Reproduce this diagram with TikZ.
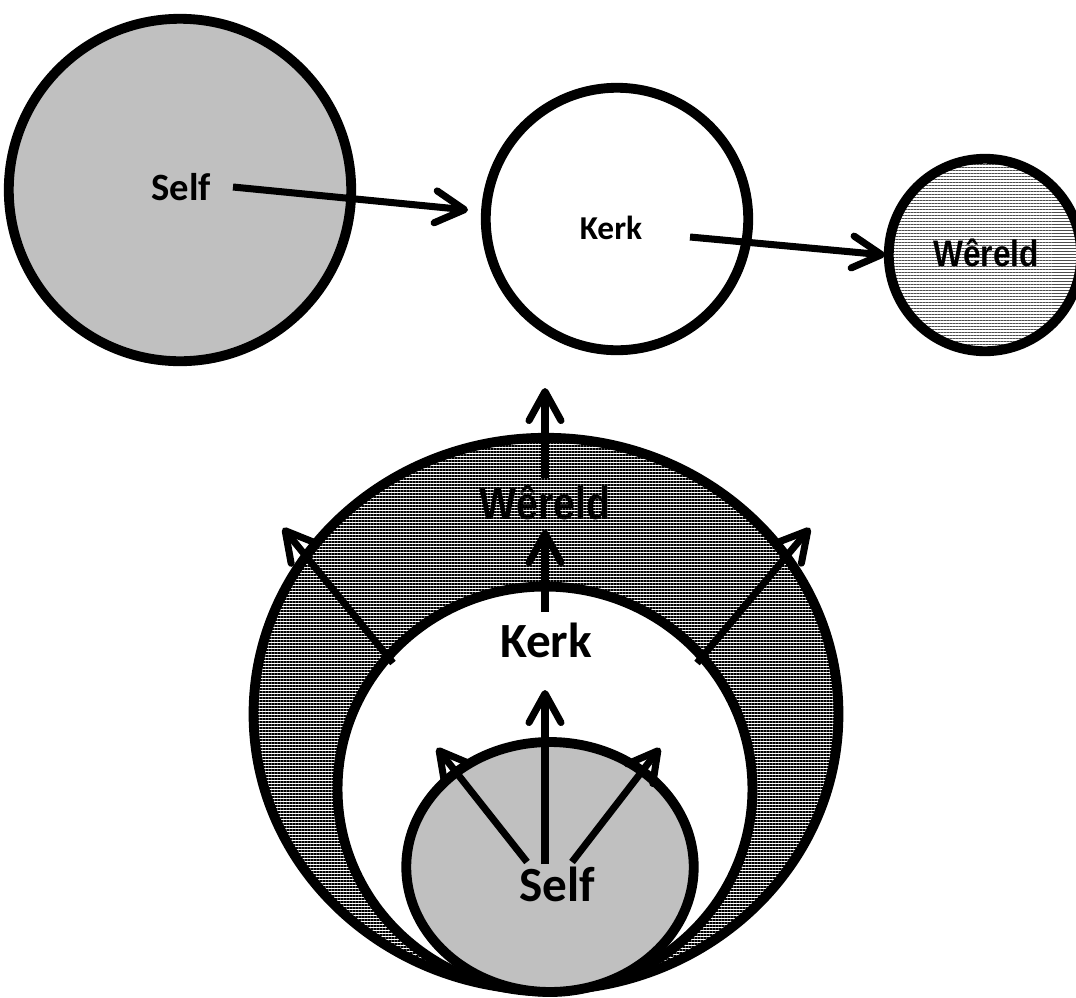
\documentclass[tikz,border=0pt]{standalone}
\usepackage{fontspec}
\setmainfont{Carlito}
\newfontfamily\arialbold[FakeStretch=0.86]{Liberation Sans Bold}
\usetikzlibrary{arrows.meta,shapes.geometric,patterns.meta}
\definecolor{selfgray}{HTML}{C0C0C0}

\begin{document}
\begin{tikzpicture}[
      x=0.02cm,y=-0.02cm,
      disc/.style={
        draw=black,
        line width=5.6pt,
        inner sep=0pt
      },
      selfdisc/.style={disc,fill=selfgray},
      kerkdisc/.style={disc,fill=white},
      worlddisc/.style={disc,pattern={Lines[angle=0,distance=0.06cm,line width=0.02cm]},pattern color=black!70},
      ringdisc/.style={disc,pattern={Lines[angle=0,distance=0.06cm,line width=0.027cm]},pattern color=black},
      lbl/.style={font=\bfseries\fontsize{22}{24}\selectfont},
      wlbl/.style={font=\arialbold\fontsize{21}{23}\selectfont},
      arr/.style={-{Straight Barb[length=5.8mm,width=6.4mm,round]},line width=4pt,draw=black}
    ]
    \useasboundingbox (0,0) rectangle (1076,998);
    % top row
    \node[selfdisc,circle,minimum size=6.85cm] (selfT) at (180,190) {};
    \node[kerkdisc,circle,minimum size=5.25cm] (kerkT) at (617,219) {};
    \node[worlddisc,circle,minimum size=3.85cm] (worldT) at (985,255) {};
    \node[lbl] (selfTl) at (181,187) {Self};
    \node[lbl,font=\bfseries\fontsize{19}{21}\selectfont] (kerkTl) at (611,228) {Kerk};
    \node[wlbl] (worldTl) at (986,253) {Wêreld};
    \coordinate (a1s) at (233,187);
    \coordinate (a1e) at (468,210);
    \coordinate (a2s) at (690,237);
    \coordinate (a2e) at (885,255);
    \draw[arr] (a1s) -- (a1e);
    \draw[arr] (a2s) -- (a2e);

    % nested
    \node[wlbl,font=\arialbold\fontsize{26}{28}\selectfont] (worldBl) at (545,503) {Wêreld};
    \node[ringdisc,ellipse,minimum width=11.7cm,minimum height=11.05cm] (worldB) at (546,714) {};
    \node[kerkdisc,ellipse,minimum width=8.3cm,minimum height=8.1cm] (kerkB) at (545,789) {};
    \node[selfdisc,ellipse,minimum width=5.75cm,minimum height=5.0cm] (selfB) at (550,867) {};
    \node[lbl,font=\bfseries\fontsize{28}{30}\selectfont] (kerkBl) at (546,640) {Kerk};
    \node[lbl,font=\bfseries\fontsize{28}{30}\selectfont] (selfBl) at (557,884) {Self};

    \coordinate (w0) at (545,478);
    \coordinate (w1) at (545,388);
    \coordinate (k0) at (545,612);
    \coordinate (k1) at (545,530);
    \coordinate (kl0) at (393,663);
    \coordinate (kl1) at (283,528);
    \coordinate (kr0) at (697,663);
    \coordinate (kr1) at (810,528);
    \coordinate (s0) at (545,864);
    \coordinate (s1) at (545,690);
    \coordinate (sl0) at (527,862);
    \coordinate (sl1) at (437,748);
    \coordinate (sr0) at (572,862);
    \coordinate (sr1) at (660,748);
    \draw[arr] (w0) -- (w1);
    \draw[arr] (k0) -- (k1);
    \draw[arr] (kl0) -- (kl1);
    \draw[arr] (kr0) -- (kr1);
    \draw[arr] (s0) -- (s1);
    \draw[arr] (sl0) -- (sl1);
    \draw[arr] (sr0) -- (sr1);
  \end{tikzpicture}
\end{document}
